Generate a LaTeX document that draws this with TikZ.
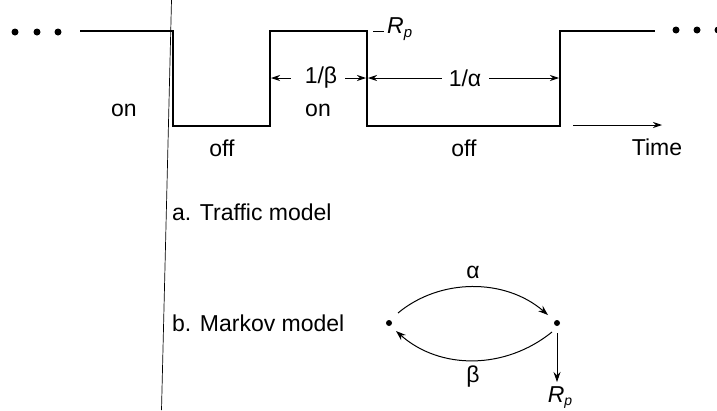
\documentclass[tikz,border=0pt]{standalone}
\usepackage{fontspec}
\setmainfont{Liberation Sans}
\usetikzlibrary{arrows.meta}
\begin{document}
\begin{tikzpicture}[x=1pt,y=-1pt,
  wave/.style={line width=1.1pt,line join=miter},
  thin/.style={line width=0.7pt},
  lbl/.style={inner sep=0pt,font=\fontsize{23}{26}\selectfont},
  dimarrow/.style={line width=0.9pt,-{Stealth[length=9pt,width=6pt]}},
  trans/.style={line width=1pt,-{Stealth[length=10pt,width=7pt]}},
  dotnode/.style={circle,fill=black,inner sep=0pt,minimum size=7pt},
  state/.style={circle,fill=black,inner sep=0pt,minimum size=6pt}]
\useasboundingbox (0,0) rectangle (717,410);
% dots
\foreach \x/\n in {15/l1,37/l2,58/l3} \node[dotnode] (\n) at (\x,32) {};
\foreach \x/\n in {676/r1,697/r2,718/r3} \node[dotnode] (\n) at (\x,30) {};
% waveform
\draw[wave] (80,31) -- (173,31) -- (173,126) -- (270,126) -- (270,31) -- (367,31)
  -- (367,126) -- (560,126) -- (560,31) -- (655,31);
% thin vertical line
\draw[thin] (171.5,0) -- (161.5,410);
% Rp label
\draw[line width=0.8pt] (373,31) -- (384,31);
\node[lbl,anchor=base west] (rp) at (387,33) {\itshape R\raisebox{-0.4ex}{\fontsize{15}{16}\selectfont p}};
% dimension labels
\node[lbl] (beta) at (321,78) {1/β};
\coordinate (bL) at (271,78); \coordinate (bR) at (366,78);
\draw[dimarrow] (beta.west) ++(-14,0) -- (bL);
\draw[dimarrow] (beta.east) ++(8,0) -- (bR);
\node[lbl] (alpha) at (465,78) {1/α};
\coordinate (aL) at (368,78); \coordinate (aR) at (559,78);
\draw[dimarrow] (alpha.west) ++(-7,0) -- (aL);
\draw[dimarrow] (alpha.east) ++(8,0) -- (aR);
% state labels
\node[lbl] (on1) at (124,110) {on};
\node[lbl] (on2) at (318,110) {on};
\node[lbl] (off1) at (222,148) {off};
\node[lbl] (off2) at (464,148) {off};
% time axis
\coordinate (t0) at (573,125); \coordinate (t1) at (662,125);
\draw[dimarrow] (t0) -- (t1);
\node[lbl] (time) at (657,147) {Time};
% captions
\node[lbl,anchor=west] (capa) at (172,212) {a. Traffic model};
\node[lbl,anchor=west] (capb) at (172,323) {b. Markov model};
% Markov chain
\node[state] (s0) at (389,323) {};
\node[state] (s1) at (557,323) {};
\draw[trans] (s0) ++(9,-10) coordinate (u0) .. controls (440,278) and (505,278) .. (548,315);
\draw[trans] (552,332) .. controls (505,370) and (440,370) .. (396,331);
\node[lbl] (al) at (473,272) {α};
\node[lbl] (be) at (473,377) {β};
\coordinate (rpend) at (557,382);
\draw[line width=0.8pt,-{Stealth[length=10pt,width=7pt]}] (s1) ++(0,10) -- (rpend);
\node[lbl,anchor=base] (rp2) at (560,402) {\itshape R\raisebox{-0.3ex}{\fontsize{14}{15}\selectfont p}};
\end{tikzpicture}
\end{document}
